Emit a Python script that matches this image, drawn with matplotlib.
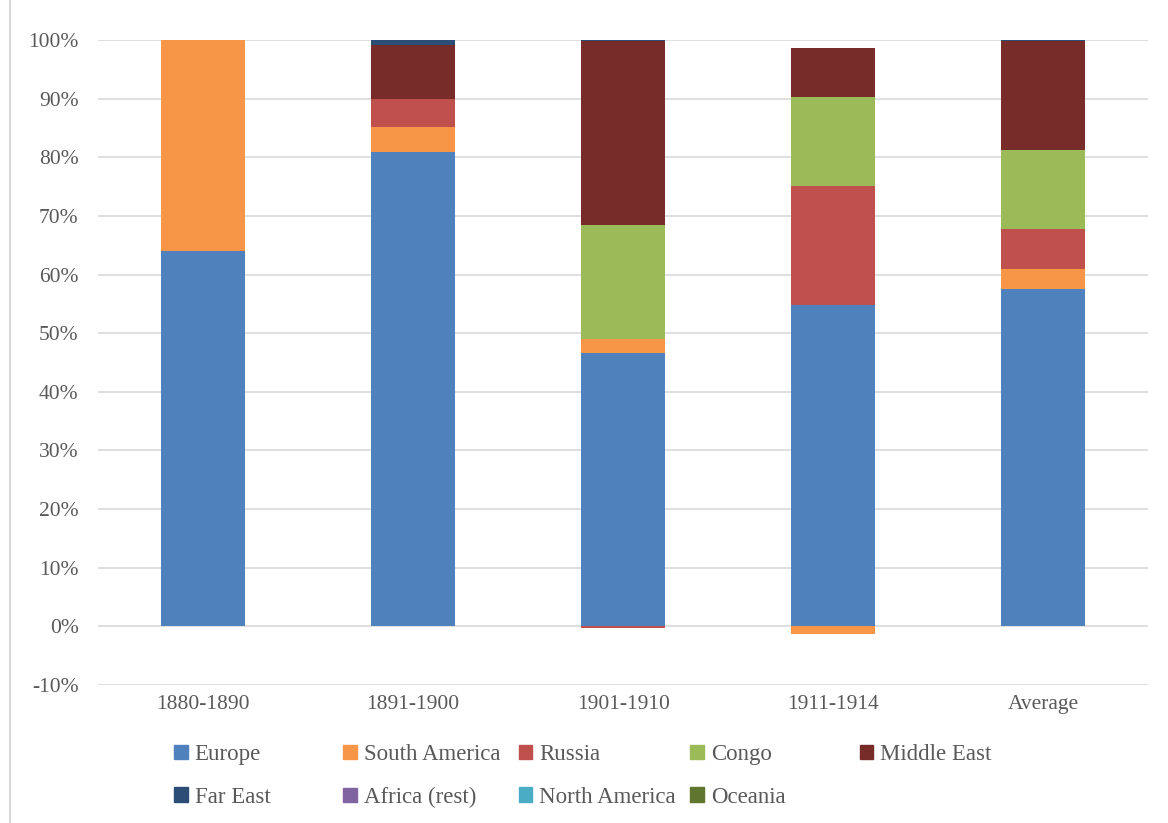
import matplotlib.pyplot as plt
from matplotlib.lines import Line2D
from matplotlib.patches import Patch
import numpy as np

# share of destinations per period (%)
periods = ['1880-1890', '1891-1900', '1901-1910', '1911-1914', 'Average']
regions = ['Europe', 'South America', 'Russia', 'Congo', 'Middle East',
           'Far East', 'Africa (rest)', 'North America', 'Oceania']

europe = [64.0, 80.9, 46.6, 54.8, 57.5]
south_america = [36.0, 4.3, 2.4, -1.3, 3.4]
russia = [0.0, 4.7, -0.25, 20.3, 6.8]
congo = [0.0, 0.0, 19.4, 15.2, 13.5]
middle_east = [0.0, 9.2, 31.4, 8.3, 18.6]
far_east = [0.0, 0.9, 0.2, 0.0, 0.2]
africa_rest = [0.0, 0.0, 0.0, 0.0, 0.0]
north_america = [0.0, 0.0, 0.0, 0.0, 0.0]
oceania = [0.0, 0.0, 0.0, 0.0, 0.0]

series = [europe, south_america, russia, congo, middle_east,
          far_east, africa_rest, north_america, oceania]
colors = ['#4F81BD', '#F79646', '#C0504D', '#9BBB59', '#772C2A',
          '#2C4D75', '#8064A2', '#4BACC6', '#5F7530']

plt.rcParams['font.family'] = ['Liberation Serif', 'DejaVu Serif']
txt = '#595959'

fig = plt.figure(figsize=(11.68, 8.23), dpi=100)
ax = fig.add_axes([0.084, 0.1677, 0.899, 0.7837])

x = np.arange(len(periods))
pos_base = np.zeros(len(periods))
neg_base = np.zeros(len(periods))
for vals, c in zip(series, colors):
    v = np.array(vals) / 100
    bottom = np.where(v >= 0, pos_base, neg_base)
    ax.bar(x, v, 0.4, bottom=bottom, color=c, zorder=3)
    pos_base = pos_base + np.where(v > 0, v, 0)
    neg_base = neg_base + np.where(v < 0, v, 0)

ax.set_xlim(-0.5, 4.5)
ax.set_ylim(-0.1, 1.0)
yt = np.arange(-0.1, 1.01, 0.1)
ax.set_yticks(yt)
ax.set_yticklabels([f'{round(t * 100)}%' for t in yt])
ax.set_xticks(x)
ax.set_xticklabels(periods)
ax.tick_params(length=0, labelsize=15.5, colors=txt)
ax.tick_params(axis='y', pad=14)
ax.tick_params(axis='x', pad=7)
ax.grid(axis='y', color='#D9D9D9', lw=1.2, zorder=0)
for s in ax.spines.values():
    s.set_visible(False)
ax.set_axisbelow(True)

# legend laid out in equal-width columns
col_x = [0.149, 0.294, 0.444, 0.591, 0.736]
for j in range(5):
    idx = [j] if j + 5 >= len(regions) else [j, j + 5]
    handles = [Patch(color=colors[i]) for i in idx]
    fig.legend(handles, [regions[i] for i in idx], loc='upper left',
               bbox_to_anchor=(col_x[j], 0.096), frameon=False,
               fontsize=16.5, labelcolor=txt, handlelength=0.6,
               handleheight=0.6, handletextpad=0.3, labelspacing=0.95,
               borderpad=0, borderaxespad=0)

fig.add_artist(Line2D([0.0085, 0.0085], [0, 1], transform=fig.transFigure,
                      color='#D9D9D9', lw=1.5))

fig.savefig('out.png', dpi=100)
